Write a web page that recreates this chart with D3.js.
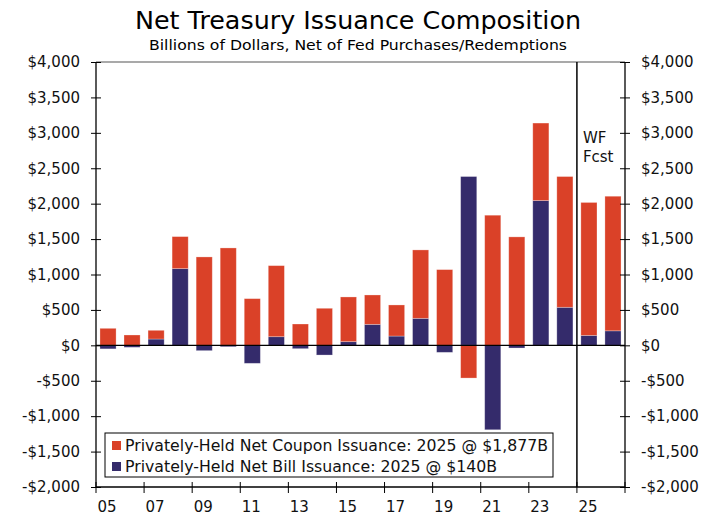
<!DOCTYPE html>
<html>
<head>
<meta charset="utf-8">
<script src="https://cdn.jsdelivr.net/npm/d3@7"></script>
<style>
  html, body { margin: 0; padding: 0; background: #fff; }
  svg { display: block; font-family: "DejaVu Sans", Verdana, sans-serif; }
</style>
</head>
<body>
<svg id="chart" width="716" height="518"></svg>
<script>
// Calendar years (fiscal), 2025-26 are forecasts
const years = [2005, 2006, 2007, 2008, 2009, 2010, 2011, 2012, 2013, 2014, 2015,
               2016, 2017, 2018, 2019, 2020, 2021, 2022, 2023, 2024, 2025, 2026];
// Privately-held net bill issuance, $B
const billIssuance = [-50, -28, 89, 1083, -75, -20, -254, 122, -47, -137, 52,
                      296, 131, 381, -99, 2383, -1192, -38, 2044, 537, 140, 205];
// Privately-held net coupon issuance, $B
const couponIssuance = [240, 146, 123, 452, 1248, 1375, 659, 1003, 301, 523, 631,
                        415, 439, 966, 1069, -462, 1837, 1531, 1094, 1846, 1877, 1900];
const yTicks = [-2000, -1500, -1000, -500, 0, 500, 1000, 1500, 2000, 2500, 3000, 3500, 4000];
const xLabelYears = [2005, 2007, 2009, 2011, 2013, 2015, 2017, 2019, 2021, 2023, 2025];
const forecastStart = 2025;

const title = "Net Treasury Issuance Composition";
const subtitle = "Billions of Dollars, Net of Fed Purchases/Redemptions";
const legendItems = [
  { key: "coupon", label: "Privately-Held Net Coupon Issuance: 2025 @ $1,877B", width: 423 },
  { key: "bill",   label: "Privately-Held Net Bill Issuance: 2025 @ $140B", width: 372 }
];

const colors = { coupon: "#DA4128", bill: "#342B6B" };

const svg = d3.select("#chart");
const plot = { left: 96, right: 625, top: 62, bottom: 487 };

const x = d3.scaleBand()
  .domain(years)
  .range([plot.left, plot.right])
  .paddingInner(0.33)
  .paddingOuter(0.165);

const y = d3.scaleLinear()
  .domain([-2000, 4000])
  .range([plot.bottom, plot.top]);

// Title block
svg.append("text")
  .attr("x", 358).attr("y", 29)
  .attr("text-anchor", "middle")
  .attr("font-size", 24)
  .attr("textLength", 446).attr("lengthAdjust", "spacingAndGlyphs")
  .attr("fill", "#000")
  .text(title);

svg.append("text")
  .attr("x", 358).attr("y", 50)
  .attr("text-anchor", "middle")
  .attr("font-size", 14.5)
  .attr("textLength", 418).attr("lengthAdjust", "spacingAndGlyphs")
  .attr("fill", "#000")
  .text(subtitle);

// Stacked bars: bills at the base, coupons on top, negatives diverge below zero
const rows = years.map((yr, i) => ({ year: yr, bill: billIssuance[i], coupon: couponIssuance[i] }));
const series = d3.stack()
  .keys(["bill", "coupon"])
  .offset(d3.stackOffsetDiverging)(rows);

svg.append("g")
  .selectAll("g")
  .data(series)
  .join("g")
  .attr("fill", d => colors[d.key])
  .selectAll("rect")
  .data(d => d)
  .join("rect")
  .attr("x", d => x(d.data.year))
  .attr("width", x.bandwidth())
  .attr("y", d => y(Math.max(d[0], d[1])))
  .attr("height", d => Math.abs(y(d[0]) - y(d[1])))
  .attr("stroke", "#ffffff")
  .attr("stroke-opacity", 0.35)
  .attr("stroke-width", 0.8);

// Top frame line
svg.append("line")
  .attr("x1", plot.left).attr("x2", plot.right)
  .attr("y1", plot.top).attr("y2", plot.top)
  .attr("stroke", "#8c8c8c").attr("stroke-width", 1.5);

// Zero line
svg.append("line")
  .attr("x1", plot.left).attr("x2", plot.right)
  .attr("y1", y(0)).attr("y2", y(0))
  .attr("stroke", "#000").attr("stroke-width", 1.2);

// Y axes (left and right) with ticks crossing the axis line
const fmt = v => (v < 0 ? "-$" : "$") + d3.format(",")(Math.abs(v));

const leftAxis = svg.append("g")
  .attr("transform", `translate(${plot.left},0)`)
  .call(d3.axisLeft(y).tickValues(yTicks).tickFormat(fmt).tickSize(5).tickPadding(11));
const rightAxis = svg.append("g")
  .attr("transform", `translate(${plot.right},0)`)
  .call(d3.axisRight(y).tickValues(yTicks).tickFormat(fmt).tickSize(5).tickPadding(11));

[leftAxis, rightAxis].forEach((g, idx) => {
  g.select(".domain").attr("stroke", "#000").attr("stroke-width", 1.3)
    .attr("d", `M0,${plot.top}V${plot.bottom}`);
  g.selectAll(".tick line")
    .attr("x1", idx === 0 ? 5 : -5)
    .attr("x2", idx === 0 ? -5 : 5)
    .attr("stroke", "#000");
  g.selectAll(".tick text")
    .attr("font-size", 15)
    .attr("font-family", "'DejaVu Sans', Verdana, sans-serif")
    .attr("fill", "#111");
});

// X axis: ticks at the start of each labelled year, labels centred on the bar
const xAxis = svg.append("g");
xAxis.append("line")
  .attr("x1", plot.left).attr("x2", plot.right)
  .attr("y1", plot.bottom).attr("y2", plot.bottom)
  .attr("stroke", "#000").attr("stroke-width", 1.3);

const step = x.step();
const boundary = yr => x(yr) - (x.paddingInner() * step) / 2;
const tickPositions = xLabelYears.map(boundary).concat([plot.right]);

xAxis.selectAll("line.xt")
  .data(tickPositions)
  .join("line")
  .attr("class", "xt")
  .attr("x1", d => d).attr("x2", d => d)
  .attr("y1", plot.bottom - 5).attr("y2", plot.bottom + 6)
  .attr("stroke", "#000");

xAxis.selectAll("text")
  .data(xLabelYears)
  .join("text")
  .attr("x", d => x(d) + x.bandwidth() / 2 - 1)
  .attr("y", 512)
  .attr("text-anchor", "middle")
  .attr("font-size", 15)
  .attr("fill", "#111")
  .text(d => String(d).slice(2));

// Forecast divider
const fx = boundary(forecastStart);
svg.append("line")
  .attr("x1", fx).attr("x2", fx)
  .attr("y1", plot.top).attr("y2", plot.bottom)
  .attr("stroke", "#000").attr("stroke-width", 1.5);

svg.append("text")
  .attr("x", fx + 6).attr("y", 143)
  .attr("font-size", 15).attr("fill", "#111")
  .text("WF");
svg.append("text")
  .attr("x", fx + 6).attr("y", 162)
  .attr("font-size", 15).attr("fill", "#111")
  .text("Fcst");

// Legend
const legend = svg.append("g").attr("transform", "translate(105,433)");
legend.append("rect")
  .attr("width", 448).attr("height", 44)
  .attr("fill", "#fff").attr("stroke", "#000").attr("stroke-width", 1);

legend.selectAll("g.item")
  .data(legendItems)
  .join("g")
  .attr("class", "item")
  .attr("transform", (d, i) => `translate(7,${7 + i * 21})`)
  .each(function (d) {
    const g = d3.select(this);
    g.append("rect")
      .attr("x", 0).attr("y", 1)
      .attr("width", 9).attr("height", 9)
      .attr("fill", colors[d.key]);
    g.append("text")
      .attr("x", 13).attr("y", 11)
      .attr("font-size", 15).attr("fill", "#111")
      .attr("textLength", d.width).attr("lengthAdjust", "spacingAndGlyphs")
      .text(d.label);
  });
</script>
</body>
</html>
